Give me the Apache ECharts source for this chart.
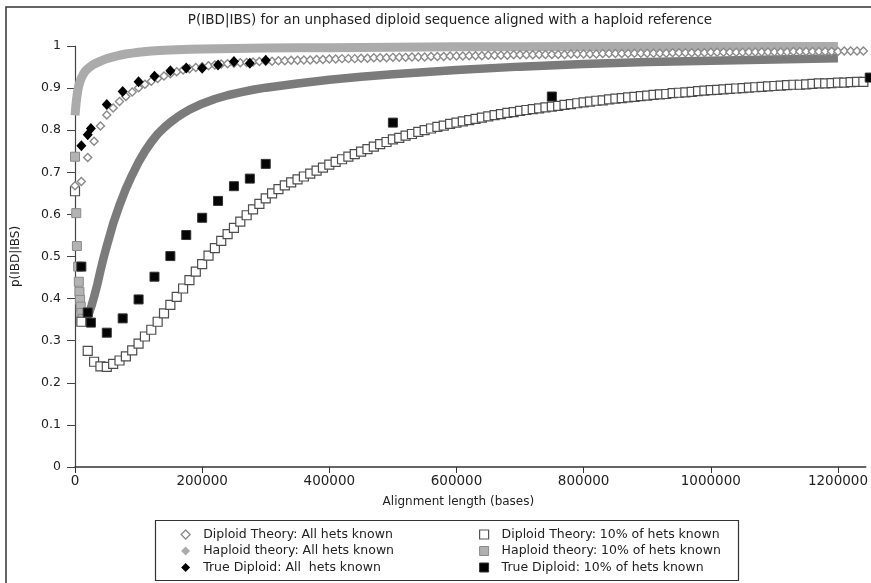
<!DOCTYPE html>
<html lang="en">
  <head>
    <meta charset="utf-8">
    <title>P(IBD|IBS)</title>
    <script src="https://cdn.jsdelivr.net/npm/echarts@6/dist/echarts.min.js"></script>
    <style>
      html, body { margin: 0; padding: 0; background: #fff; }
      #chart { width: 871px; height: 583px; }
    </style>
  </head>
  <body>
    <div id="chart"></div>
    <script>
      var FONT = "DejaVu Sans";

      // x grid of the theory curves, in kilobases
      var theoryX = [0,10,20,30,40,50,60,70,80,90,100,110,120,130,140,150,160,170,180,190,
        200,210,220,230,240,250,260,270,280,290,300,310,320,330,340,350,360,370,380,390,
        400,410,420,430,440,450,460,470,480,490,500,510,520,530,540,550,560,570,580,590,
        600,610,620,630,640,650,660,670,680,690,700,710,720,730,740,750,760,770,780,790,
        800,810,820,830,840,850,860,870,880,890,900,910,920,930,940,950,960,970,980,990,
        1000,1010,1020,1030,1040,1050,1060,1070,1080,1090,1100,1110,1120,1130,1140,1150,1160,1170,1180,1190,
        1200,1210,1220,1230,1240];

      var diploidAll = [0.668,0.678,0.735,0.774,0.810,0.836,0.853,0.868,0.880,0.891,
        0.901,0.909,0.916,0.923,0.929,0.934,0.939,0.943,0.946,0.949,
        0.951,0.953,0.955,0.957,0.958,0.959,0.960,0.961,0.962,0.963,
        0.964,0.964,0.965,0.965,0.966,0.966,0.967,0.967,0.968,0.968,
        0.969,0.969,0.970,0.970,0.970,0.971,0.971,0.972,0.972,0.972,
        0.973,0.973,0.973,0.974,0.974,0.974,0.975,0.975,0.975,0.976,
        0.976,0.976,0.977,0.977,0.977,0.978,0.978,0.978,0.978,0.979,
        0.979,0.979,0.979,0.980,0.980,0.980,0.980,0.980,0.981,0.981,
        0.981,0.981,0.981,0.982,0.982,0.982,0.982,0.982,0.983,0.983,
        0.983,0.983,0.983,0.983,0.984,0.984,0.984,0.984,0.984,0.984,
        0.985,0.985,0.985,0.985,0.985,0.985,0.986,0.986,0.986,0.986,
        0.986,0.986,0.986,0.987,0.987,0.987,0.987,0.987,0.987,0.987,
        0.987,0.988,0.988,0.988,0.988];

      var diploid10 = [0.655,0.345,0.276,0.250,0.239,0.238,0.245,0.253,0.263,0.277,
        0.293,0.310,0.326,0.345,0.365,0.385,0.404,0.424,0.444,0.464,
        0.482,0.502,0.520,0.537,0.553,0.568,0.583,0.598,0.612,0.625,
        0.638,0.650,0.660,0.669,0.676,0.683,0.690,0.697,0.704,0.711,
        0.718,0.725,0.731,0.737,0.743,0.749,0.755,0.761,0.767,0.772,
        0.778,0.782,0.787,0.791,0.796,0.800,0.804,0.808,0.811,0.815,
        0.818,0.821,0.824,0.827,0.830,0.833,0.836,0.838,0.841,0.843,
        0.846,0.848,0.850,0.852,0.854,0.856,0.858,0.860,0.862,0.864,
        0.866,0.868,0.870,0.871,0.873,0.875,0.876,0.878,0.879,0.881,
        0.882,0.884,0.885,0.886,0.888,0.889,0.890,0.891,0.893,0.894,
        0.895,0.896,0.897,0.898,0.899,0.900,0.901,0.902,0.903,0.904,
        0.905,0.906,0.907,0.908,0.908,0.909,0.910,0.911,0.911,0.912,
        0.913,0.913,0.914,0.915,0.915];

      // haploid theory, all hets known (kb / value)
      var haploidAllX = [0,1,2,3,4,6,8,10,13,16,20,25,30,40,50,60,70,80,90,100,
        120,140,160,180,200,250,300,350,400,500,600,700,800,900,1000,1100,1200];
      var haploidAll = [0.835,0.852,0.868,0.880,0.891,0.906,0.916,0.924,0.933,0.940,
        0.946,0.952,0.957,0.964,0.970,0.974,0.978,0.981,0.983,0.985,
        0.988,0.990,0.991,0.992,0.993,0.994,0.995,0.996,0.996,0.997,
        0.998,0.998,0.999,0.999,0.999,0.999,0.999];

      // haploid theory, 10% known: first separated points, then the dense band
      var haploid10StartX = [0,2,3,5,6,7,8,9,10,12];
      var haploid10Start = [0.737,0.603,0.525,0.476,0.440,0.416,0.397,0.381,0.366,0.352];
      var haploid10X = [14,18,22,26,30,35,40,45,50,60,70,80,90,100,110,120,130,140,150,160,
        170,180,200,220,240,260,280,300,350,400,450,500,600,700,800,900,1000,1100,1200];
      var haploid10 = [0.349,0.352,0.365,0.383,0.404,0.433,0.466,0.497,0.525,0.578,
        0.622,0.661,0.694,0.724,0.750,0.772,0.791,0.806,0.819,0.830,
        0.840,0.849,0.863,0.874,0.883,0.890,0.896,0.901,0.911,0.920,
        0.927,0.933,0.943,0.951,0.957,0.962,0.965,0.968,0.971];

      var trueAllX = [10,20,25,50,75,100,125,150,175,200,225,250,275,300];
      var trueAll = [0.763,0.789,0.804,0.861,0.892,0.915,0.928,0.941,0.948,0.947,0.955,0.963,0.959,0.966];

      var true10X = [10,20,25,50,75,100,125,150,175,200,225,250,275,300,500,750,1250];
      var true10 = [0.476,0.367,0.343,0.319,0.353,0.398,0.452,0.501,0.551,0.592,0.632,0.667,0.685,0.720,0.818,0.880,0.925];

      var yTicks = [0, 0.1, 0.2, 0.3, 0.4, 0.5, 0.6, 0.7, 0.8, 0.9, 1];

      var names = [
        "Diploid Theory: All hets known",
        "Haploid theory: All hets known",
        "True Diploid: All  hets known",
        "Diploid Theory: 10% of hets known",
        "Haploid theory: 10% of hets known",
        "True Diploid: 10% of hets known"
      ];

      function pairs(xs, ys){
        var out = [];
        for (var i = 0; i < xs.length; i++){
          out.push([xs[i] * 1000, ys[i]]);
        }
        return out;
      }

      var myChart = echarts.init(document.getElementById("chart"), null, {renderer: "canvas"});

      // text pushed right so it starts ~23px after the icon centre
      var legendText = {fontFamily: FONT, fontSize: 12.5, color: "#222", lineHeight: 13, padding: [0, 0, 0, 8]};

      myChart.setOption({
        animation: false,
        backgroundColor: "#fff",
        textStyle: {fontFamily: FONT},
        grid: {left: 75, top: 46, right: 0, bottom: 116},
        graphic: [
          {type: "rect", shape: {x: 6, y: 7, width: 900, height: 620},
           style: {fill: "none", stroke: "#333", lineWidth: 1.5}, silent: true},
          {type: "rect", shape: {x: 155.5, y: 520.5, width: 583, height: 60},
           style: {fill: "none", stroke: "#333", lineWidth: 1.2}, silent: true},
          {type: "text", x: 450, y: 20,
           style: {text: "P(IBD|IBS) for an unphased diploid sequence aligned with a haploid reference",
                   font: "13.5px " + FONT, fill: "#222", textAlign: "center", textVerticalAlign: "middle",
                   align: "center", verticalAlign: "middle"}}
        ],
        legend: [
          {left: 175.5, top: 523, orient: "vertical", itemWidth: 9, itemHeight: 9, itemGap: 3.5,
           selectedMode: false, textStyle: legendText,
           data: [
             {name: names[0], icon: "diamond", itemStyle: {color: "#fff", borderColor: "#8a8a8a", borderWidth: 1.3}},
             {name: names[1], icon: "diamond", itemStyle: {color: "#ababab", borderWidth: 0}},
             {name: names[2], icon: "diamond", itemStyle: {color: "#000", borderWidth: 0}}
           ]},
          {left: 474, top: 523, orient: "vertical", itemWidth: 9, itemHeight: 9, itemGap: 3.5,
           selectedMode: false, textStyle: legendText,
           data: [
             {name: names[3], icon: "rect", itemStyle: {color: "#fff", borderColor: "#555", borderWidth: 1.2}},
             {name: names[4], icon: "rect", itemStyle: {color: "#b0b0b0", borderColor: "#8a8a8a", borderWidth: 1}},
             {name: names[5], icon: "rect", itemStyle: {color: "#000", borderColor: "#333", borderWidth: 1}}
           ]}
        ],
        xAxis: {
          type: "value", min: 0, max: 1243750, interval: 200000,
          name: "Alignment length (bases)", nameLocation: "middle", nameGap: 29,
          nameTextStyle: {fontFamily: FONT, fontSize: 12, color: "#222", padding: [0, 24, 0, 0]},
          axisLine: {lineStyle: {color: "#333", width: 1.5}},
          axisTick: {length: 6, lineStyle: {color: "#333"}},
          axisLabel: {fontFamily: FONT, fontSize: 13.5, color: "#222", margin: 7, showMaxLabel: false,
                      formatter: function(v){ return String(v); }},
          splitLine: {show: false}
        },
        yAxis: {
          type: "value", min: yTicks[0], max: yTicks[yTicks.length - 1], interval: 0.1,
          name: "p(IBD|IBS)", nameLocation: "middle", nameGap: 53,
          nameTextStyle: {fontFamily: FONT, fontSize: 12, color: "#222"},
          axisLine: {show: true, lineStyle: {color: "#444", width: 1.2}},
          axisTick: {show: true, length: 8, lineStyle: {color: "#444"}},
          axisLabel: {fontFamily: FONT, fontSize: 12.5, color: "#222", margin: 14},
          splitLine: {show: false}
        },
        series: [
          {name: names[4], type: "line", data: pairs(haploid10X, haploid10), clip: false,
           showSymbol: false, symbol: "rect", lineStyle: {color: "#7b7b7b", width: 8.5},
           itemStyle: {color: "#7b7b7b"}, z: 2},
          {name: names[4], type: "scatter", data: pairs(haploid10StartX, haploid10Start), clip: false,
           symbol: "rect", symbolSize: 9,
           itemStyle: {color: "#b3b3b3", borderColor: "#8a8a8a", borderWidth: 1, opacity: 1}, z: 2},
          {name: names[3], type: "scatter", data: pairs(theoryX, diploid10), clip: false,
           symbol: "rect", symbolSize: 9,
           itemStyle: {color: "#fff", borderColor: "#4d4d4d", borderWidth: 1.2, opacity: 1}, z: 3},
          {name: names[1], type: "line", data: pairs(haploidAllX, haploidAll), clip: false,
           showSymbol: false, symbol: "diamond", lineStyle: {color: "#ababab", width: 9},
           itemStyle: {color: "#ababab"}, z: 3},
          {name: names[0], type: "scatter", data: pairs(theoryX, diploidAll), clip: false,
           symbol: "diamond", symbolSize: 8,
           itemStyle: {color: "#fff", borderColor: "#8a8a8a", borderWidth: 1.4, opacity: 1}, z: 4},
          {name: names[5], type: "scatter", data: pairs(true10X, true10), clip: false,
           symbol: "rect", symbolSize: 9,
           itemStyle: {color: "#050505", borderColor: "#333", borderWidth: 1, opacity: 1}, z: 5},
          {name: names[2], type: "scatter", data: pairs(trueAllX, trueAll), clip: false,
           symbol: "diamond", symbolSize: [10, 11],
           itemStyle: {color: "#000", opacity: 1}, z: 5}
        ]
      });
    </script>
  </body>
</html>
